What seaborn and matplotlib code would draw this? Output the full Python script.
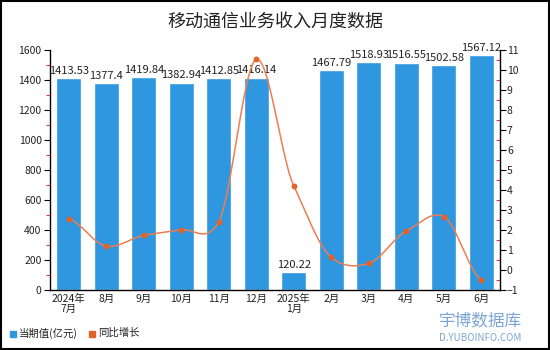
import numpy as np
import pandas as pd
import matplotlib
matplotlib.use("Agg")
import matplotlib.pyplot as plt
import seaborn as sns
from matplotlib.patches import Rectangle
from matplotlib.ticker import MultipleLocator

months = ["2024年\n7月", "8月", "9月", "10月", "11月", "12月", "2025年\n1月",
          "2月", "3月", "4月", "5月", "6月"]
revenue = [1413.53, 1377.4, 1419.84, 1382.94, 1412.85, 1416.14, 120.22,
           1467.79, 1518.93, 1516.55, 1502.58, 1567.12]
rev_labels = ["1413.53", "1377.4", "1419.84", "1382.94", "1412.85", "1416.14", "120.22",
              "1467.79", "1518.93", "1516.55", "1502.58", "1567.12"]
growth = [2.56, 1.19, 1.73, 2.01, 2.41, 10.53, 4.21, 0.63, 0.33, 1.95, 2.67, -0.5]

title = "移动通信业务收入月度数据"
legend_bar = "当期值(亿元)"
legend_line = "同比增长"

BAR = "#2f96e0"
LINE = "#ee7d4f"
DOT = "#e0632a"

sns.set_theme(style="white")
plt.rcParams["font.family"] = ["Noto Sans CJK SC", "DejaVu Sans"]

fig = plt.figure(figsize=(5.5, 3.5), dpi=100)
ax = fig.add_axes([50 / 550, 60 / 350, 450 / 550, 240 / 350])

df = pd.DataFrame({"month": months, "revenue": revenue})
sns.barplot(data=df, x="month", y="revenue", color=BAR, saturation=1,
            width=0.67, ax=ax)
ax.set_xlim(-0.5, len(months) - 0.5)
ax.set_ylim(0, 1600)
ax.set_xlabel("")
ax.set_ylabel("")
ax.yaxis.set_major_locator(MultipleLocator(200))
ax.yaxis.set_minor_locator(MultipleLocator(100))
ax.tick_params(axis="y", which="major", length=4, width=0.8, color="black",
               labelsize=7.5, labelcolor="#222222", pad=2, direction="out")
ax.tick_params(axis="y", which="minor", length=3, width=0.8, color="#e04040",
               direction="out")
ax.tick_params(axis="x", length=0, labelsize=7.5, labelcolor="#222222", pad=3)
for lab in ax.get_xticklabels():
    lab.set_linespacing(1.0)
for s in ["top", "right"]:
    ax.spines[s].set_visible(False)
for s in ["left", "bottom"]:
    ax.spines[s].set_color("black")
    ax.spines[s].set_linewidth(1.0)

for i, (v, t) in enumerate(zip(revenue, rev_labels)):
    ax.text(i, v + 14, t, ha="center", va="bottom", fontsize=8, color="#222222")

ax2 = ax.twinx()
ax2.set_ylim(-1, 11)
ax2.yaxis.set_major_locator(MultipleLocator(1))
ax2.yaxis.set_minor_locator(MultipleLocator(0.5))
ax2.tick_params(axis="y", which="major", length=4, width=0.8, color="black",
                labelsize=7.5, labelcolor="#222222", pad=1, direction="out")
ax2.tick_params(axis="y", which="minor", length=3, width=0.8, color="#e04040",
                direction="in")
for s in ["top", "left", "bottom"]:
    ax2.spines[s].set_visible(False)
ax2.spines["right"].set_color("black")
ax2.spines["right"].set_linewidth(1.0)

# smooth curve (cubic Hermite) through the growth points for display
xs = np.arange(len(growth), dtype=float)
ys = np.array(growth, dtype=float)
px = np.concatenate([[xs[0]], xs, [xs[-1]]])
py = np.concatenate([[ys[0]], ys, [ys[-1]]])
cx, cy = [], []
for k in range(1, len(px) - 2):
    p0, p1, p2, p3 = py[k - 1], py[k], py[k + 1], py[k + 2]
    x1, x2 = px[k], px[k + 1]
    t = np.linspace(0, 1, 30)
    m1 = 0.5 * (p2 - p0) * 0.8
    m2 = 0.5 * (p3 - p1) * 0.8
    h00 = 2 * t**3 - 3 * t**2 + 1
    h10 = t**3 - 2 * t**2 + t
    h01 = -2 * t**3 + 3 * t**2
    h11 = t**3 - t**2
    cy.extend(h00 * p1 + h10 * m1 + h01 * p2 + h11 * m2)
    cx.extend(x1 + t * (x2 - x1))
ax2.plot(cx, cy, color=LINE, lw=1.1, zorder=3)
sns.scatterplot(x=xs, y=ys, color=DOT, s=18, edgecolor=DOT, linewidth=0,
                ax=ax2, zorder=4, legend=False)
ax2.set_xlim(-0.5, len(months) - 0.5)

fig.text(0.5, 1 - 22 / 350, title, ha="center", va="center", fontsize=13,
         color="#222222")

# legend
fig.patches.append(Rectangle((10 / 550, 1 - 337 / 350), 6 / 550, 6 / 350,
                             transform=fig.transFigure, color=BAR, figure=fig))
fig.text(19 / 550, 1 - 333 / 350, legend_bar, fontsize=7.5, va="center", color="#222222")
fig.patches.append(Rectangle((89 / 550, 1 - 337 / 350), 6 / 550, 6 / 350,
                             transform=fig.transFigure, color=DOT, figure=fig))
fig.text(98 / 550, 1 - 333 / 350, legend_line, fontsize=7.5, va="center", color="#222222")

# watermark
fig.text(480 / 550, 1 - 321 / 350, "宇博数据库", fontsize=12, color="#5b8fc9",
         ha="center", va="center", alpha=0.8)
fig.text(480 / 550, 1 - 338 / 350, "D.YUBOINFO.COM", fontsize=7, color="#5b8fc9",
         ha="center", va="center", alpha=0.8)

# outer frame
fig.patches.append(Rectangle((0.001, 0.002), 0.997, 0.996, transform=fig.transFigure,
                             fill=False, edgecolor="black", lw=1.5, figure=fig))

fig.savefig("out.png", dpi=100)
